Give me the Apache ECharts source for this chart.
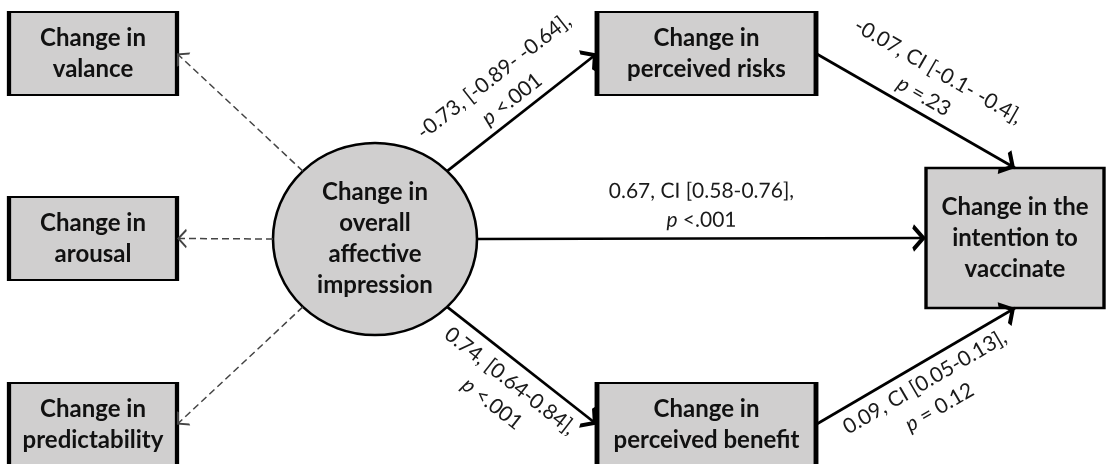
<!DOCTYPE html>
<html>
<head>
<meta charset="utf-8">
<script src="https://cdn.jsdelivr.net/npm/echarts@6/dist/echarts.min.js"></script>
<style>
html,body{margin:0;padding:0;background:#ffffff;}
#chart{width:1107px;height:464px;}
</style>
</head>
<body>
<div id="chart"></div>
<script>
// ---------------- DATA ----------------
const nodeIds = ['valence', 'arousal', 'predictability', 'overall', 'risks', 'benefit', 'intention'];
const nodeLabels = [
  'Change in\nvalance',
  'Change in\narousal',
  'Change in\npredictability',
  'Change in\noverall\naffective\nimpression',
  'Change in\nperceived risks',
  'Change in\nperceived benefit',
  'Change in the\nintention to\nvaccinate'
];
const pathFrom = ['overall', 'overall', 'overall', 'risks', 'benefit'];
const pathTo = ['risks', 'intention', 'benefit', 'intention', 'intention'];
const pathEstimate = [
  '-0.73, [-0.89- -0.64],',
  '0.67, CI [0.58-0.76],',
  '0.74, [0.64-0.84],',
  '-0.07, CI [-0.1- -0.4],',
  '0.09, CI [0.05-0.13],'
];
const pathP = ['<.001', '<.001', '<.001', '=.23', '= 0.12'];
const indicatorFrom = ['overall', 'overall', 'overall'];
const indicatorTo = ['valence', 'arousal', 'predictability'];

// ---------------- LAYOUT (pixel space of the canvas) ----------------
const layout = {
  valence:        { x: 93,    y: 53.5,  w: 168, h: 83,  shape: 'rect' },
  arousal:        { x: 93,    y: 238.5, w: 168, h: 83,  shape: 'rect' },
  predictability: { x: 93,    y: 424.5, w: 168, h: 83,  shape: 'rect' },
  overall:        { x: 375,   y: 239,   w: 204, h: 192, shape: 'ellipse' },
  risks:          { x: 706.5, y: 53.5,  w: 219, h: 83,  shape: 'rect' },
  benefit:        { x: 706.5, y: 424.5, w: 219, h: 83,  shape: 'rect' },
  intention:      { x: 1015,  y: 238,   w: 178, h: 140, shape: 'rect' }
};
const pathAnchors = [['ne', 'left'], ['right', 'left'], ['se', 'left'], ['right', 'top'], ['right', 'bottom']];
const pathLabelSide = ['insideMiddleTop', 'insideMiddleTop', 'insideMiddleBottom', 'insideMiddleTop', 'insideMiddleBottom'];
const pathLabelDist = [2, 4, 5, 2, 4];
const indicatorAnchors = [['nw', 'right'], ['left', 'right'], ['sw', 'right']];

function anchor(id, where) {
  const n = layout[id];
  if (n.shape === 'ellipse') {
    const ang = { right: 0, ne: -45, left: 180, nw: -135, se: 45, sw: 135, top: -90, bottom: 90 }[where] * Math.PI / 180;
    return [n.x + n.w / 2 * Math.cos(ang), n.y + n.h / 2 * Math.sin(ang)];
  }
  switch (where) {
    case 'left': return [n.x - n.w / 2, n.y];
    case 'right': return [n.x + n.w / 2, n.y];
    case 'top': return [n.x, n.y - n.h / 2];
    case 'bottom': return [n.x, n.y + n.h / 2];
  }
}

// open chevron arrowheads (tip at the symbol centre)
const arrowBold = 'path://M8,-13.7 M8,0 L16,12 L13.5,13.7 L8,5.4 L2.5,13.7 L0,12 Z';
const arrowThin = 'path://M5.5,-9.73 M5.5,0 L11,9 L9.8,9.73 L5.5,2.7 L1.2,9.73 L0,9 Z';

const FONT = 'Lato, "Open Sans", sans-serif';
const fill = '#d0cfcf';

const nodeData = nodeIds.map((id, i) => {
  const n = layout[id];
  return {
    name: id,
    value: [n.x, n.y],
    symbol: n.shape === 'ellipse' ? 'circle' : 'rect',
    symbolSize: [n.w, n.h],
    itemStyle: { borderWidth: n.shape === 'ellipse' ? 2.5 : 3 },
    label: { formatter: nodeLabels[i] }
  };
});

const pathData = pathFrom.map((f, i) => ({
  coords: [anchor(f, pathAnchors[i][0]), anchor(pathTo[i], pathAnchors[i][1])],
  label: {
    position: pathLabelSide[i],
    distance: pathLabelDist[i],
    formatter: '{t|' + pathEstimate[i] + '}\n{i|p}{t| ' + pathP[i] + '}'
  }
}));

const indicatorData = indicatorFrom.map((f, i) => ({
  coords: [anchor(f, indicatorAnchors[i][0]), anchor(indicatorTo[i], indicatorAnchors[i][1])]
}));

const chart = echarts.init(document.getElementById('chart'), null, { renderer: 'canvas' });
chart.setOption({
  animation: false,
  backgroundColor: '#ffffff',
  grid: { left: 0, right: 0, top: 0, bottom: 0, containLabel: false },
  xAxis: { type: 'value', min: 0, max: 1107, show: false },
  yAxis: { type: 'value', min: 0, max: 464, inverse: true, show: false },
  series: [
    {
      type: 'scatter',
      silent: true,
      z: 2,
      data: nodeData,
      itemStyle: { color: fill, borderColor: '#000', opacity: 1 },
      label: {
        show: true,
        position: 'inside',
        fontFamily: FONT,
        fontWeight: 'bold',
        fontSize: 24,
        lineHeight: 31,
        color: '#111111',
        align: 'center'
      }
    },
    {
      type: 'lines',
      coordinateSystem: 'cartesian2d',
      silent: true,
      z: 3,
      symbol: ['none', arrowBold],
      symbolSize: [16, 27.4],
      lineStyle: { color: '#000', width: 2.7, opacity: 1, curveness: 0 },
      label: {
        show: true,
        color: '#1e1e1e',
        rich: {
          t: { fontFamily: FONT, fontSize: 21, lineHeight: 29, color: '#1a1a1a' },
          i: { fontFamily: FONT, fontSize: 21, lineHeight: 29, fontStyle: 'italic', color: '#1a1a1a' }
        }
      },
      data: pathData
    },
    {
      type: 'lines',
      coordinateSystem: 'cartesian2d',
      silent: true,
      z: 3,
      symbol: ['none', arrowThin],
      symbolSize: [11, 19.46],
      lineStyle: { color: '#444444', width: 1.5, type: [7, 4], opacity: 1, curveness: 0 },
      label: { show: false },
      data: indicatorData
    }
  ]
});
</script>
</body>
</html>
